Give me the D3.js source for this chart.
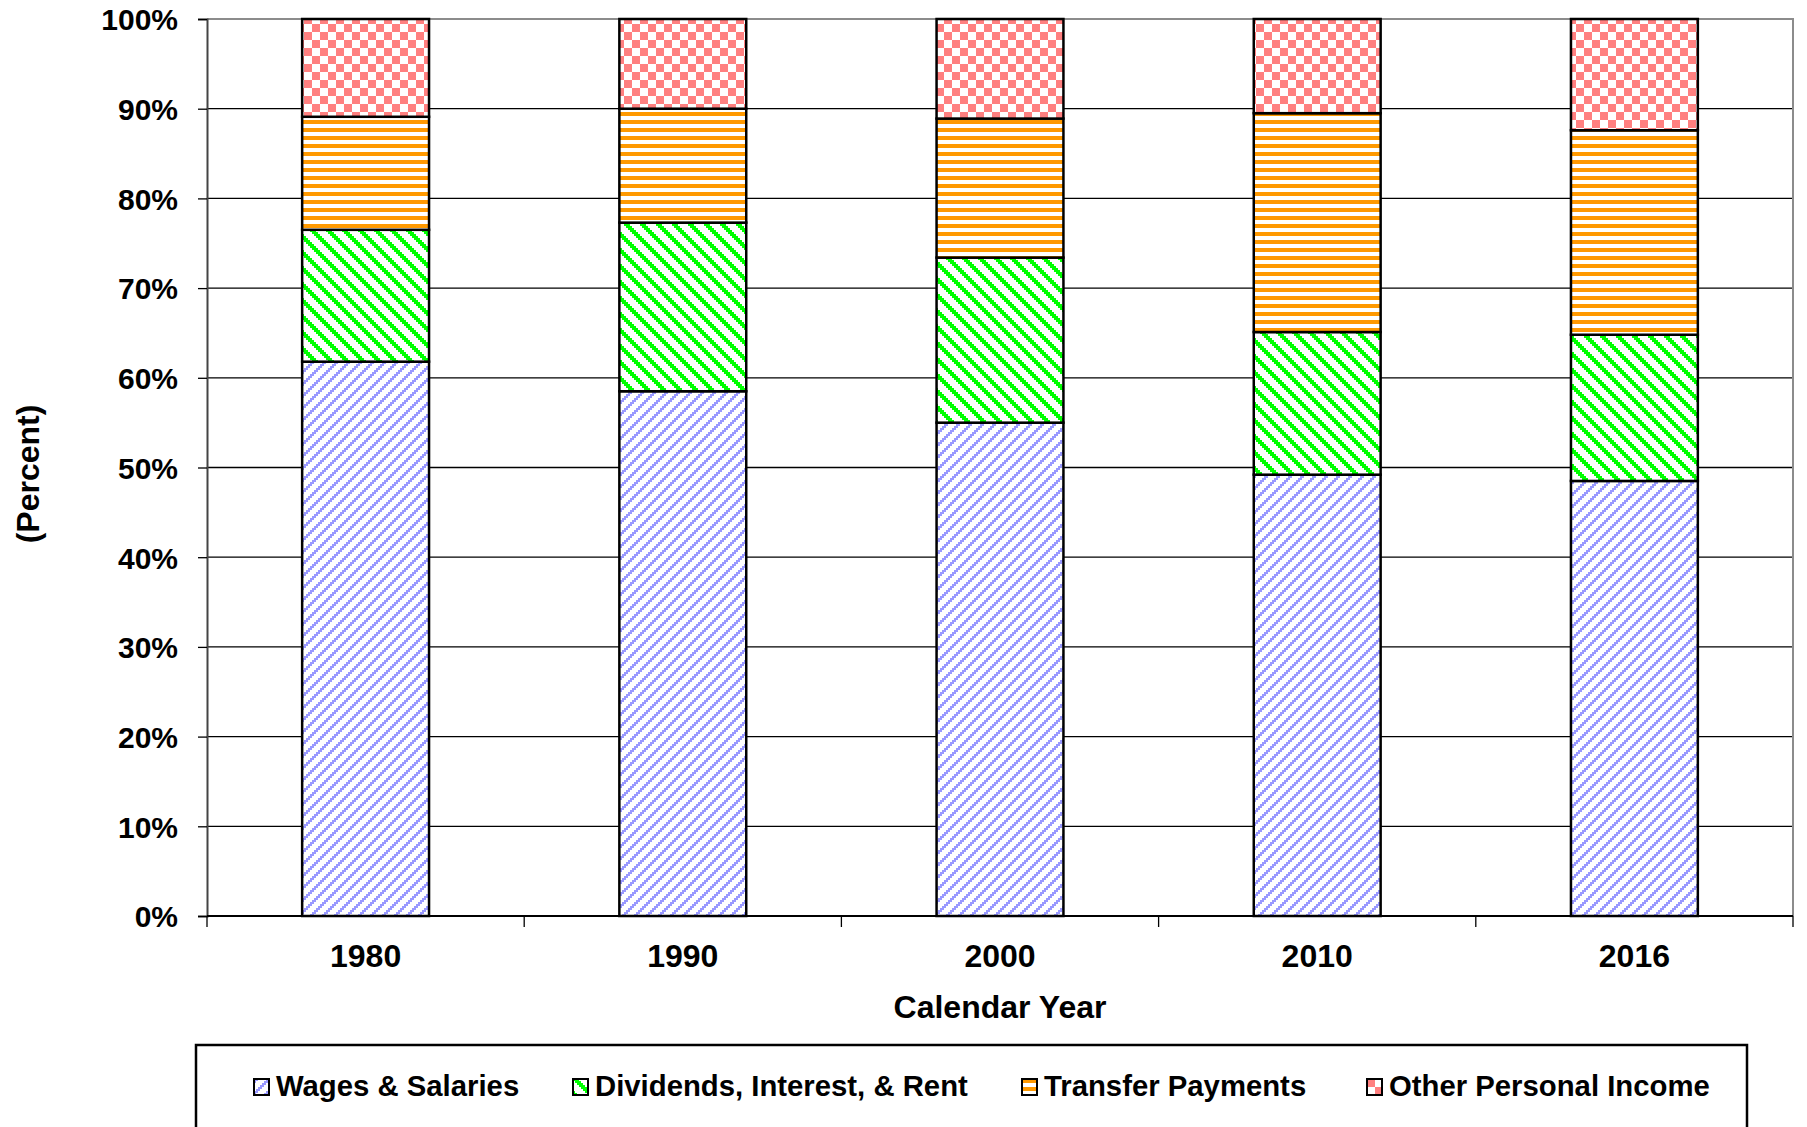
<!DOCTYPE html>
<html>
<head>
<meta charset="utf-8">
<script src="https://cdn.jsdelivr.net/npm/d3@7"></script>
<style>
  body { margin: 0; background: #fff; }
  svg { display: block; }
  text { font-family: "Liberation Sans", Arial, sans-serif; font-weight: bold; fill: #000; }
</style>
</head>
<body>
<svg id="chart" width="1807" height="1127"></svg>
<script>
// data (percent of personal income)
const years = ['1980', '1990', '2000', '2010', '2016'];
const wages = [61.8, 58.5, 55.0, 49.2, 48.5];
const dividends = [14.7, 18.8, 18.4, 15.9, 16.3];
const transfers = [12.6, 12.7, 15.5, 24.4, 22.8];
const other = [10.9, 10.0, 11.1, 10.5, 12.4];
const seriesNames = ['Wages & Salaries', 'Dividends, Interest, & Rent', 'Transfer Payments', 'Other Personal Income'];
const yTicks = [0, 10, 20, 30, 40, 50, 60, 70, 80, 90, 100];

const svg = d3.select('#chart');
const plot = { left: 207, right: 1793, top: 19, bottom: 916 };

const x = d3.scaleBand().domain(years).range([plot.left, plot.right]).paddingInner(0.6).paddingOuter(0.3);
const y = d3.scaleLinear().domain([0, 100]).range([plot.bottom, plot.top]);

// --- hatch patterns (Excel style, pixel blocks) ---
const defs = svg.append('defs');
function pixelPattern(id, size, color, test, px) {
    const p = defs.append('pattern').attr('id', id).attr('patternUnits', 'userSpaceOnUse')
        .attr('width', size * px).attr('height', size * px);
    p.append('rect').attr('width', size * px).attr('height', size * px).attr('fill', '#fff');
    for (let i = 0; i < size; i++) {
        for (let j = 0; j < size; j++) {
            if (test(i, j)) {
                p.append('rect').attr('x', i * px).attr('y', j * px).attr('width', px).attr('height', px)
                    .attr('fill', color).attr('shape-rendering', 'crispEdges');
            }
        }
    }
}
// upward diagonal
pixelPattern('pat0', 6, '#9999ff', (i, j) => (i + j) % 6 < 2, 2);
// wide downward diagonal
pixelPattern('pat1', 8, '#00ff00', (i, j) => ((i - j) % 8 + 8) % 8 < 3, 2);
// dark horizontal
pixelPattern('pat2', 4, '#ff9900', (i, j) => j < 2, 2);
// large checkerboard
pixelPattern('pat3', 2, '#ff8080', (i, j) => (i + j) % 2 === 0, 8);

// --- gridlines ---
svg.append('g').selectAll('line').data(yTicks.slice(1, -1)).join('line')
    .attr('x1', plot.left).attr('x2', plot.right)
    .attr('y1', d => y(d)).attr('y2', d => y(d))
    .attr('stroke', '#000').attr('stroke-width', 1.3);

// plot area border (top and right in gray)
svg.append('path')
    .attr('d', `M${plot.left},${plot.top}H${plot.right}V${plot.bottom}`)
    .attr('fill', 'none').attr('stroke', '#8c8c8c').attr('stroke-width', 2);

// --- stacked bars ---
const rows = years.map((yr, i) => ({ year: yr, s0: wages[i], s1: dividends[i], s2: transfers[i], s3: other[i] }));
const stack = d3.stack().keys(['s0', 's1', 's2', 's3'])(rows);

svg.append('g').selectAll('g').data(stack).join('g')
    .attr('fill', (d, i) => `url(#pat${i})`)
    .selectAll('rect').data(d => d).join('rect')
    .attr('x', d => x(d.data.year))
    .attr('width', x.bandwidth())
    .attr('y', d => y(d[1]))
    .attr('height', d => y(d[0]) - y(d[1]))
    .attr('stroke', '#000').attr('stroke-width', 2.5);

// --- y axis ---
const yAxis = svg.append('g').attr('transform', `translate(${plot.left},0)`)
    .call(d3.axisLeft(y).tickValues(yTicks).tickSize(9).tickPadding(20).tickFormat(d => d + '%'));
yAxis.select('.domain').attr('stroke', '#444').attr('stroke-width', 2);
yAxis.selectAll('.tick line').attr('stroke', '#000').attr('stroke-width', 1.3);
yAxis.selectAll('.tick text').style('font-size', '30px').attr('dy', '0.36em');

// --- x axis ---
const xAxis = svg.append('g').attr('transform', `translate(0,${plot.bottom})`)
    .call(d3.axisBottom(x).tickSize(0).tickPadding(28));
xAxis.select('.domain').remove();
xAxis.selectAll('.tick text').style('font-size', '32px');
svg.append('line').attr('x1', plot.left).attr('x2', plot.right)
    .attr('y1', plot.bottom).attr('y2', plot.bottom)
    .attr('stroke', '#000').attr('stroke-width', 2);
svg.append('g').selectAll('line').data(d3.range(years.length + 1)).join('line')
    .attr('x1', i => plot.left + i * x.step()).attr('x2', i => plot.left + i * x.step())
    .attr('y1', plot.bottom).attr('y2', plot.bottom + 11)
    .attr('stroke', '#000').attr('stroke-width', 1.3);

// axis titles
svg.append('text').attr('x', (plot.left + plot.right) / 2).attr('y', 1018)
    .attr('text-anchor', 'middle').style('font-size', '32px').text('Calendar Year');
svg.append('text').attr('transform', 'translate(39,474) rotate(-90)')
    .attr('text-anchor', 'middle').style('font-size', '32px').text('(Percent)');

// --- legend ---
const legend = svg.append('g');
legend.append('rect').attr('x', 196).attr('y', 1045).attr('width', 1551).attr('height', 100)
    .attr('fill', '#fff').attr('stroke', '#000').attr('stroke-width', 2.5);
const legendX = [254, 573, 1022, 1367];
const item = legend.selectAll('g.item').data(seriesNames).join('g').attr('class', 'item')
    .attr('transform', (d, i) => `translate(${legendX[i]},1079)`);
item.append('rect').attr('width', 15).attr('height', 16)
    .attr('fill', (d, i) => `url(#pat${i})`).attr('stroke', '#000').attr('stroke-width', 2);
item.append('text').attr('x', 22).attr('y', 17).style('font-size', '29.3px').text(d => d);
</script>
</body>
</html>
